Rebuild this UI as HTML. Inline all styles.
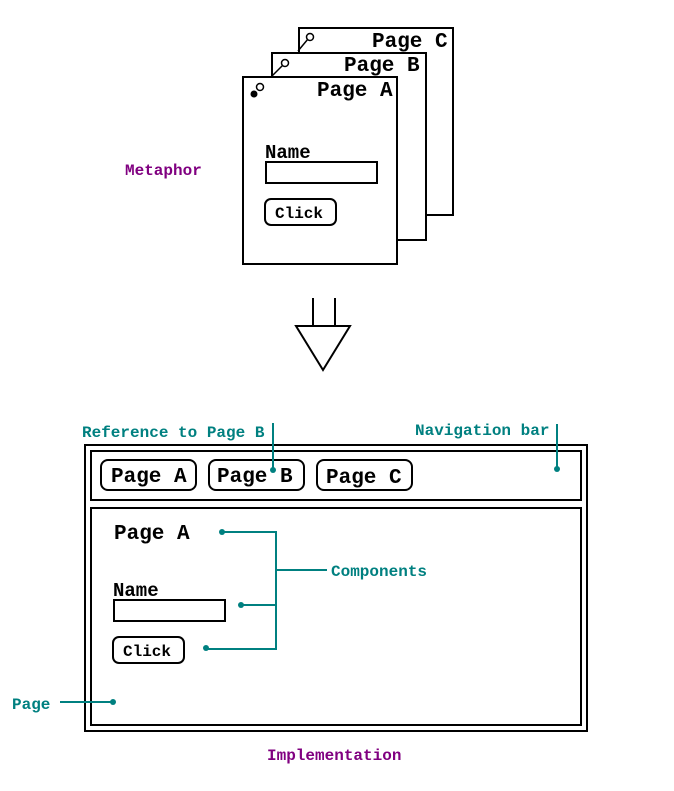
<!DOCTYPE html>
<html><head><style>body{margin:0;background:#fff}svg{display:block}</style></head><body>
<svg width="674" height="791" viewBox="0 0 674 791" xmlns="http://www.w3.org/2000/svg" font-family="Liberation Mono, monospace" font-weight="bold">
<g fill="#fff" stroke="#000" stroke-width="2">
<rect x="299" y="28" width="154" height="187"/>
<rect x="272" y="53" width="154" height="187"/>
<rect x="243" y="77" width="154" height="187"/>
</g>
<g stroke="#000" stroke-width="1.5" fill="none">
<line x1="298" y1="51" x2="308" y2="39"/><circle cx="310" cy="37" r="3.5" fill="#fff"/>
<line x1="272" y1="76" x2="283" y2="65"/><circle cx="285" cy="63" r="3.5" fill="#fff"/>
<circle cx="260" cy="87" r="3.5" fill="#fff"/>
</g>
<circle cx="254" cy="94" r="3.5" fill="#000"/>
<g font-size="21" fill="#000">
<text x="372" y="47">Page C</text>
<text x="344" y="71">Page B</text>
<text x="317" y="96">Page A</text>
</g>
<text x="265" y="158" font-size="19">Name</text>
<rect x="266" y="162" width="111" height="21" fill="none" stroke="#000" stroke-width="2"/>
<rect x="265" y="199" width="71" height="26" rx="6" fill="none" stroke="#000" stroke-width="2"/>
<text x="275" y="218" font-size="16">Click</text>
<text x="125" y="175" font-size="16" fill="#800080">Metaphor</text>
<path d="M313 298V326M335 298V326M296 326H350L323 370Z" fill="#fff" stroke="#000" stroke-width="2" stroke-linejoin="miter"/>
<g fill="none" stroke="#000" stroke-width="2">
<rect x="85" y="445" width="502" height="286"/>
<rect x="91" y="451" width="490" height="49"/>
<rect x="91" y="508" width="490" height="217"/>
<rect x="101" y="460" width="95" height="30" rx="7"/>
<rect x="209" y="460" width="95" height="30" rx="7"/>
<rect x="317" y="460" width="95" height="30" rx="7"/>
<rect x="114" y="600" width="111" height="21"/>
<rect x="113" y="637" width="71" height="26" rx="6"/>
</g>
<g font-size="21" fill="#000">
<text x="111" y="482">Page A</text>
<text x="217" y="482">Page B</text>
<text x="326" y="483">Page C</text>
<text x="114" y="539">Page A</text>
</g>
<text x="113" y="596" font-size="19">Name</text>
<text x="123" y="656" font-size="16">Click</text>
<g stroke="#008080" stroke-width="2" fill="none">
<line x1="273" y1="423" x2="273" y2="470"/>
<line x1="557" y1="424" x2="557" y2="469"/>
<path d="M222 532H276V649H206M241 605H276M276 570H327"/>
<line x1="60" y1="702" x2="113" y2="702"/>
</g>
<g fill="#008080">
<circle cx="273" cy="470" r="3"/><circle cx="557" cy="469" r="3"/>
<circle cx="222" cy="532" r="3"/><circle cx="241" cy="605" r="3"/><circle cx="206" cy="648" r="3"/>
<circle cx="113" cy="702" r="3"/>
</g>
<g font-size="16" fill="#008080">
<text x="82" y="437">Reference to Page B</text>
<text x="415" y="435">Navigation bar</text>
<text x="331" y="576">Components</text>
<text x="12" y="709">Page</text>
</g>
<text x="267" y="760" font-size="16" fill="#800080">Implementation</text>
</svg>
</body></html>
